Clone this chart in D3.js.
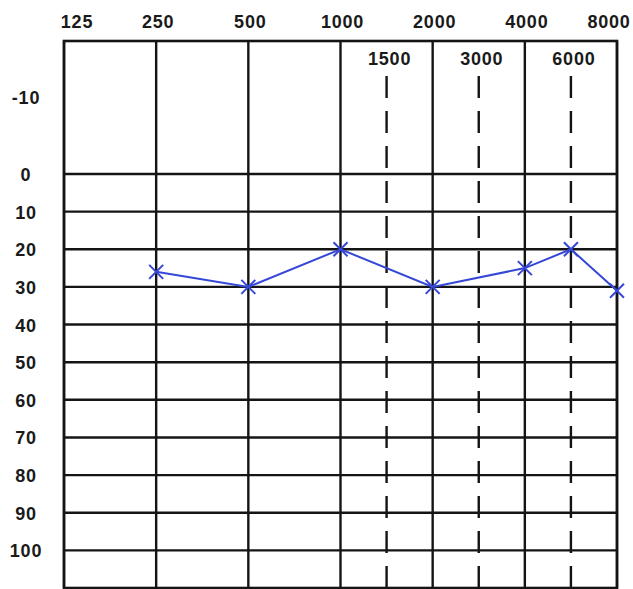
<!DOCTYPE html>
<html>
<head>
<meta charset="utf-8">
<script src="https://cdn.jsdelivr.net/npm/d3@7"></script>
<style>
  html, body { margin: 0; padding: 0; background: #ffffff; }
  svg { display: block; }
  text { font-family: "Liberation Sans", Arial, sans-serif; font-weight: bold; fill: #1a1a1a; letter-spacing: 0.8px; }
</style>
</head>
<body>
<svg id="chart" width="633" height="589"></svg>
<script>
// ---- data ----
const octaveFreqs = [125, 250, 500, 1000, 2000, 4000, 8000];
const midFreqs = [1500, 3000, 6000];
const hearingLevels = [0, 10, 20, 30, 40, 50, 60, 70, 80, 90, 100];
const topLabel = [-10];
const testFreqs = [250, 500, 1000, 2000, 4000, 6000, 8000];
const thresholds = [26, 30, 20, 30, 25, 20, 31];

(function () {
  // ---- layout ----
  const gLeft = 64, gRight = 617, gTop = 41, gBottom = 588;

  const svg = d3.select("#chart");

  // frequency -> position on the form (octaves, half-octave slots for 1500/3000/6000)
  const octIndex = f => {
    const l = Math.log2(f / 125);
    return Math.abs(l - Math.round(l)) < 1e-9 ? Math.round(l) : Math.floor(l) + 0.5;
  };
  const xPos = d3.scaleLinear().domain([0, octaveFreqs.length - 1]).range([gLeft, gRight]);
  const x = f => xPos(octIndex(f));

  // hearing level scale (the -10 band above 0 is stretched on the form)
  const y = d3.scaleLinear().domain([-10, 0, 110]).range([97, 174, gBottom]);

  const ink = "#141414";

  // horizontal grid lines
  svg.append("g").selectAll("line").data(hearingLevels).join("line")
    .attr("x1", gLeft).attr("x2", gRight)
    .attr("y1", d => y(d)).attr("y2", d => y(d))
    .attr("stroke", ink).attr("stroke-width", 2.4);

  // vertical octave lines
  svg.append("g").selectAll("line").data(octaveFreqs).join("line")
    .attr("x1", d => x(d)).attr("x2", d => x(d))
    .attr("y1", gTop).attr("y2", gBottom)
    .attr("stroke", ink).attr("stroke-width", 2.4);

  // dashed mid-octave lines
  svg.append("g").selectAll("line").data(midFreqs).join("line")
    .attr("x1", d => x(d)).attr("x2", d => x(d))
    .attr("y1", 76).attr("y2", gBottom)
    .attr("stroke", ink).attr("stroke-width", 2.4)
    .attr("stroke-dasharray", "22,13");

  // frame
  svg.append("rect")
    .attr("x", gLeft).attr("y", gTop)
    .attr("width", gRight - gLeft).attr("height", gBottom - gTop)
    .attr("fill", "none").attr("stroke", ink).attr("stroke-width", 2.6);

  // top frequency labels
  svg.append("g").selectAll("text").data(octaveFreqs).join("text")
    .attr("x", d => x(d) + (d === 125 ? 13 : d === 8000 ? -8 : 2))
    .attr("y", 28)
    .attr("text-anchor", "middle")
    .attr("font-size", 18)
    .text(d => d);

  // mid-octave labels inside the frame
  svg.append("g").selectAll("text").data(midFreqs).join("text")
    .attr("x", d => x(d) + 3)
    .attr("y", 65)
    .attr("text-anchor", "middle")
    .attr("font-size", 18)
    .text(d => d);

  // left hearing-level labels
  svg.append("g").selectAll("text").data(topLabel.concat(hearingLevels)).join("text")
    .attr("x", 26)
    .attr("y", d => y(d) + 7)
    .attr("text-anchor", "middle")
    .attr("font-size", 18)
    .text(d => d);

  // threshold line
  const pts = testFreqs.map((f, i) => [x(f), y(thresholds[i])]);
  const blue = "#3547d6";
  svg.append("path")
    .attr("d", d3.line()(pts))
    .attr("fill", "none").attr("stroke", blue).attr("stroke-width", 2);

  // X markers
  const s = 7;
  const marks = svg.append("g").selectAll("g").data(pts).join("g")
    .attr("transform", d => `translate(${d[0]},${d[1]})`);
  marks.append("line").attr("x1", -s).attr("y1", -s).attr("x2", s).attr("y2", s)
    .attr("stroke", blue).attr("stroke-width", 2);
  marks.append("line").attr("x1", -s).attr("y1", s).attr("x2", s).attr("y2", -s)
    .attr("stroke", blue).attr("stroke-width", 2);
})();
</script>
</body>
</html>
